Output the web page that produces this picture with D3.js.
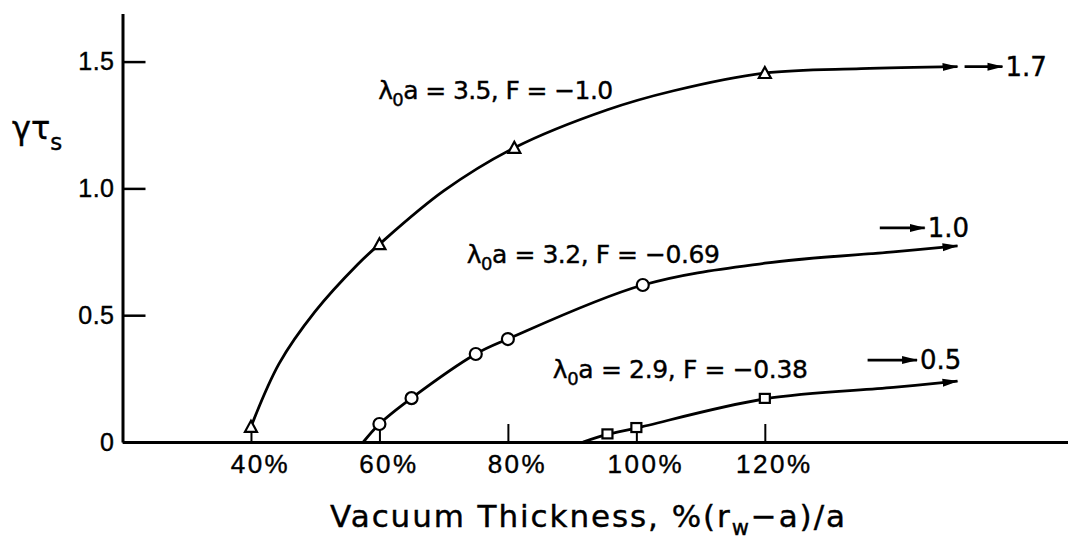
<!DOCTYPE html>
<html>
<head>
<meta charset="utf-8">
<script src="https://cdn.jsdelivr.net/npm/d3@7"></script>
<style>
  body { margin: 0; background: #fff; }
  svg { display: block; font-family: "DejaVu Sans", sans-serif; }
  text { fill: black; stroke: black; stroke-width: 0.4px; }
</style>
</head>
<body>
<div id="main"></div>
<script>
const width = 1068, height = 543;

// x ticks (percent) and y ticks
const xTicks = [40, 60, 80, 100, 120];
const yTicks = [0, 0.5, 1.0, 1.5];

// lambda0 a = 3.5, F = -1.0 (triangles)
const triMarkX = [40, 60, 81, 120];
const triMarkY = [0.06, 0.78, 1.16, 1.455];
const triLineX = [40, 44.4, 50, 56.6, 60, 70, 81, 95.5, 105.8, 120, 135, 150];
const triLineY = [0.06, 0.31, 0.515, 0.70, 0.78, 0.99, 1.16, 1.31, 1.385, 1.455, 1.472, 1.48];

// lambda0 a = 3.2, F = -0.69 (circles)
const cirMarkX = [60, 65, 75, 80, 101];
const cirMarkY = [0.071, 0.173, 0.347, 0.406, 0.619];
const cirLineX = [57.5, 60, 65, 75, 80, 101, 120, 140, 150];
const cirLineY = [0, 0.071, 0.173, 0.347, 0.406, 0.619, 0.705, 0.75, 0.773];

// lambda0 a = 2.9, F = -0.38 (squares)
const sqMarkX = [95.5, 100, 120];
const sqMarkY = [0.03, 0.055, 0.17];
const sqLineX = [91.7, 95.5, 100, 120, 140, 150];
const sqLineY = [0, 0.03, 0.055, 0.17, 0.215, 0.24];

// asymptote notes: label, arrow x from/to, y
const asymLabels = ["1.7", "1.0", "0.5"];
const asymX0 = [151.1, 137.9, 136];
const asymX1 = [157.0, 144.9, 143.7];
const asymY = [1.48, 0.844, 0.323];

// curve labels
const curveLa = ["3.5", "3.2", "2.9"];
const curveF = ["−1.0", "−0.69", "−0.38"];
const curveLabX = [59.8, 73.6, 87.0];
const curveLabY = [1.353, 0.706, 0.252];

const x = d3.scaleLinear().domain([20, 167.2]).range([122.5, 1068]);
const y = d3.scaleLinear().domain([0, 1.69]).range([442, 13.4]);

const svg = d3.select("#main").append("svg")
    .attr("width", width)
    .attr("height", height);

svg.append("defs").append("marker")
    .attr("id", "arrow")
    .attr("viewBox", "0 -5 16 10")
    .attr("refX", 15)
    .attr("refY", 0)
    .attr("markerUnits", "userSpaceOnUse")
    .attr("markerWidth", 16)
    .attr("markerHeight", 10)
    .attr("orient", "auto")
    .append("path")
    .attr("fill", "black")
    .attr("d", "M0,-4L16,0L0,4Z");

// axes
const yAxis = svg.append("g")
    .attr("transform", `translate(${x(20)},0)`)
    .call(d3.axisLeft(y).tickValues(yTicks).tickSize(-23).tickSizeOuter(0).tickPadding(8)
        .tickFormat(d => d === 0 ? "0" : d.toFixed(1)));
yAxis.select(".domain").attr("stroke-width", 3);
yAxis.selectAll(".tick line").attr("stroke-width", 2.5);
yAxis.selectAll(".tick text").attr("font-size", 25).attr("letter-spacing", 0.5);

const xAxis = svg.append("g")
    .attr("transform", `translate(0,${y(0)})`)
    .call(d3.axisBottom(x).tickValues(xTicks).tickSize(-18).tickSizeOuter(0).tickPadding(13)
        .tickFormat(d => d + "%"));
xAxis.select(".domain").attr("stroke-width", 3);
xAxis.selectAll(".tick line").attr("stroke-width", 2);
xAxis.selectAll(".tick text").attr("font-size", 26)
    .attr("dx", 9).attr("letter-spacing", 2.5);

// y label
const yl = svg.append("text").attr("x", 12).attr("y", 139).attr("font-size", 32);
yl.append("tspan").text("γτ");
yl.append("tspan").attr("font-size", 23).attr("dy", 11).text("s");

// x label
const xl = svg.append("text").attr("x", 330).attr("y", 527).attr("font-size", 31)
    .attr("textLength", 515).attr("lengthAdjust", "spacing");
xl.append("tspan").text("Vacuum Thickness, %(r");
xl.append("tspan").attr("font-size", 21).attr("dy", 8).text("w");
xl.append("tspan").attr("dy", -8).text("−a)/a");

// curves
const line = d3.line().x(d => x(d[0])).y(d => y(d[1])).curve(d3.curveCatmullRom.alpha(0.5));
const series = [
    d3.zip(triLineX, triLineY),
    d3.zip(cirLineX, cirLineY),
    d3.zip(sqLineX, sqLineY)
];
svg.append("g")
    .attr("fill", "none")
    .attr("stroke", "black")
    .attr("stroke-width", 2.8)
    .selectAll("path")
    .data(series)
    .join("path")
    .attr("d", line)
    .attr("marker-end", "url(#arrow)");

// markers
const mk = svg.append("g").attr("fill", "white").attr("stroke", "black").attr("stroke-width", 2.2);
mk.selectAll("path.tri")
    .data(d3.zip(triMarkX, triMarkY))
    .join("path")
    .attr("class", "tri")
    .attr("d", d => {
        const cx = x(d[0]), cy = y(d[1]);
        return `M${cx},${cy - 6}L${cx + 6},${cy + 5}L${cx - 6},${cy + 5}Z`;
    });
mk.selectAll("circle")
    .data(d3.zip(cirMarkX, cirMarkY))
    .join("circle")
    .attr("cx", d => x(d[0]))
    .attr("cy", d => y(d[1]))
    .attr("r", 6);
mk.selectAll("rect")
    .data(d3.zip(sqMarkX, sqMarkY))
    .join("rect")
    .attr("x", d => x(d[0]) - 5)
    .attr("y", d => y(d[1]) - 5)
    .attr("width", 10)
    .attr("height", 9);

// asymptote arrows
const asym = svg.append("g");
asymLabels.forEach((lab, i) => {
    asym.append("line")
        .attr("x1", x(asymX0[i])).attr("x2", x(asymX1[i]))
        .attr("y1", y(asymY[i])).attr("y2", y(asymY[i]))
        .attr("stroke", "black").attr("stroke-width", 2.8)
        .attr("marker-end", "url(#arrow)");
    asym.append("text")
        .attr("x", x(asymX1[i]) + 3)
        .attr("y", y(asymY[i]))
        .attr("dy", "0.36em")
        .attr("font-size", 26)
        .text(lab);
});

// curve labels
curveLa.forEach((v, i) => {
    const t = svg.append("text")
        .attr("x", x(curveLabX[i]))
        .attr("y", y(curveLabY[i]))
        .attr("font-size", 25)
        .attr("textLength", [235, 253, 255][i])
        .attr("lengthAdjust", "spacing");
    t.append("tspan").text("λ");
    t.append("tspan").attr("font-size", 18).attr("dy", 7).text("0");
    t.append("tspan").attr("dy", -7).text(`a = ${v}, F = ${curveF[i]}`);
});
</script>
</body>
</html>
